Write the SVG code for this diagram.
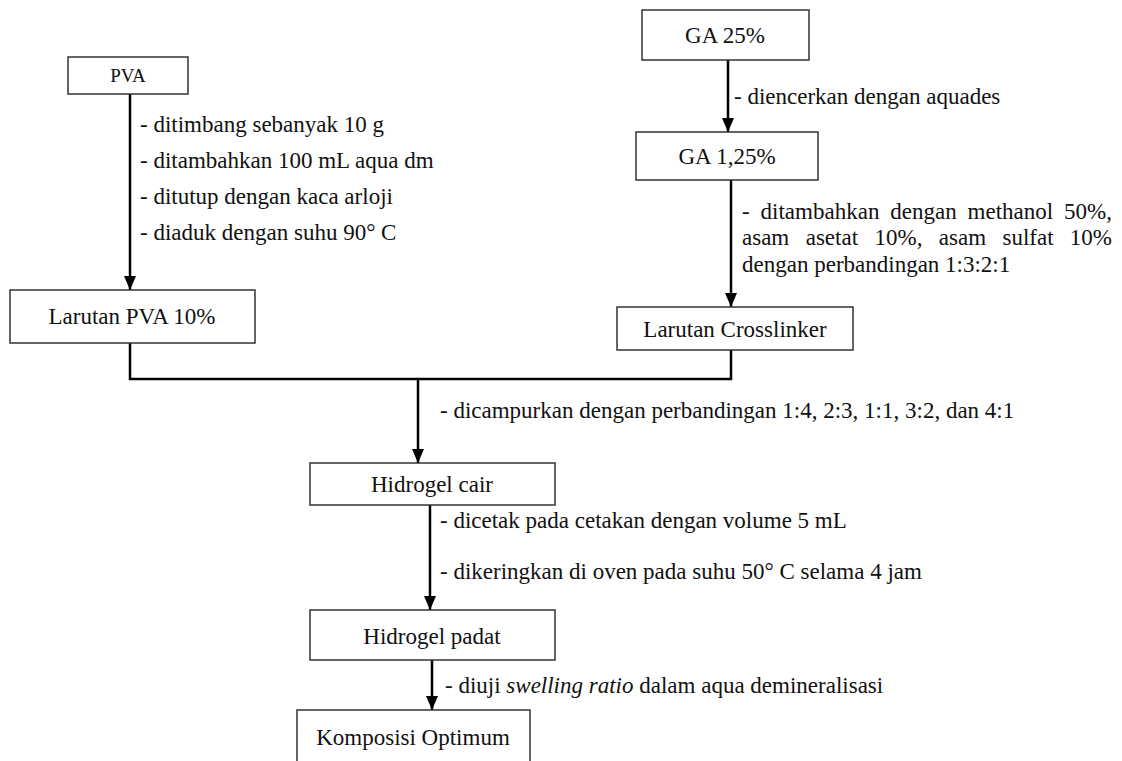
<svg xmlns="http://www.w3.org/2000/svg" width="1122" height="761" viewBox="0 0 1122 761">
<defs>
<marker id="ah" markerWidth="14" markerHeight="12" refX="14" refY="6" orient="auto" markerUnits="userSpaceOnUse" viewBox="0 0 14 12">
<path d="M0,0 L14,6 L0,12 Z" fill="#000"/>
</marker>
<style>
.box{fill:#fff;stroke:#333;stroke-width:1.5}
.lbl{font-family:"Liberation Serif","Times New Roman",serif;font-size:23px;fill:#111;text-anchor:middle}
.ann{font-family:"Liberation Serif","Times New Roman",serif;font-size:23px;fill:#111}
.con{fill:none;stroke:#000;stroke-width:2.5}
</style>
</defs>
<rect width="1122" height="761" fill="#fff"/>
<g id="connectors">
<line class="con" x1="130" y1="94" x2="130" y2="290" marker-end="url(#ah)"/>
<line class="con" x1="728" y1="60" x2="728" y2="132" marker-end="url(#ah)"/>
<line class="con" x1="731" y1="180" x2="731" y2="307" marker-end="url(#ah)"/>
<polyline class="con" points="130,343 130,379 731,379 731,350"/>
<line class="con" x1="418" y1="379" x2="418" y2="463" marker-end="url(#ah)"/>
<line class="con" x1="430" y1="505" x2="430" y2="610" marker-end="url(#ah)"/>
<line class="con" x1="432" y1="660" x2="432" y2="710" marker-end="url(#ah)"/>
</g>
<g id="pva"><rect class="box" x="68" y="57" width="120" height="37"/><text class="lbl" x="128" y="82" style="font-size:19px">PVA</text></g>
<g id="larutan-pva"><rect class="box" x="10" y="290" width="245" height="53"/><text class="lbl" x="132" y="324">Larutan PVA 10%</text></g>
<g id="ga25"><rect class="box" x="642" y="10" width="167" height="50"/><text class="lbl" x="725" y="43">GA 25%</text></g>
<g id="ga125"><rect class="box" x="636" y="132" width="182" height="48"/><text class="lbl" x="727" y="164">GA 1,25%</text></g>
<g id="crosslinker"><rect class="box" x="617" y="307" width="236" height="43"/><text class="lbl" x="735" y="337">Larutan Crosslinker</text></g>
<g id="hidrogel-cair"><rect class="box" x="310" y="463" width="245" height="42"/><text class="lbl" x="432" y="492">Hidrogel cair</text></g>
<g id="hidrogel-padat"><rect class="box" x="310" y="610" width="245" height="50"/><text class="lbl" x="432" y="644">Hidrogel padat</text></g>
<g id="komposisi"><rect class="box" x="297" y="710" width="233" height="60"/><text class="lbl" x="413" y="745">Komposisi Optimum</text></g>
<g id="labels">
<text class="ann" x="140" y="132">- ditimbang sebanyak 10 g</text>
<text class="ann" x="140" y="168">- ditambahkan 100 mL aqua dm</text>
<text class="ann" x="140" y="204">- ditutup dengan kaca arloji</text>
<text class="ann" x="140" y="240">- diaduk dengan suhu 90° C</text>
<text class="ann" x="734" y="104">- diencerkan dengan aquades</text>
<text class="ann" y="219"><tspan x="742">-</tspan><tspan x="760.6">ditambahkan</tspan><tspan x="890.3">dengan</tspan><tspan x="967.6">methanol</tspan><tspan x="1112" text-anchor="end">50%,</tspan></text>
<text class="ann" y="245"><tspan x="742">asam</tspan><tspan x="805.7">asetat</tspan><tspan x="874.5">10%,</tspan><tspan x="938.8">asam</tspan><tspan x="1002.5">sulfat</tspan><tspan x="1112" text-anchor="end">10%</tspan></text>
<text class="ann" x="742" y="272">dengan perbandingan 1:3:2:1</text>
<text class="ann" x="440" y="418">- dicampurkan dengan perbandingan 1:4, 2:3, 1:1, 3:2, dan 4:1</text>
<text class="ann" x="440" y="528">- dicetak pada cetakan dengan volume 5 mL</text>
<text class="ann" x="440" y="579">- dikeringkan di oven pada suhu 50° C selama 4 jam</text>
<text class="ann" x="445" y="693">- diuji <tspan font-style="italic">swelling ratio</tspan> dalam aqua demineralisasi</text>
</g>
</svg>
